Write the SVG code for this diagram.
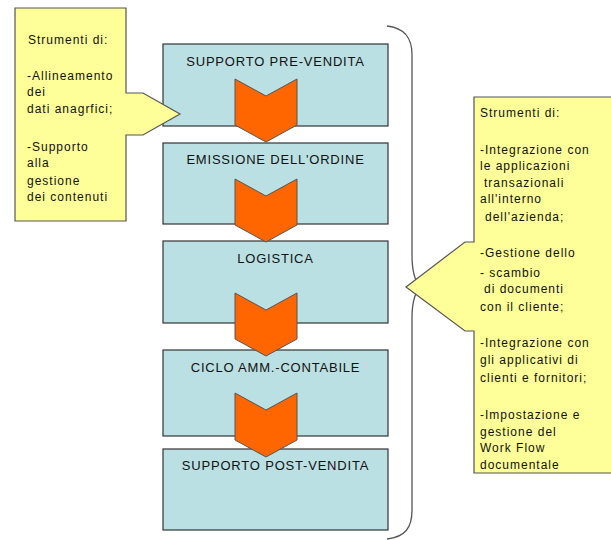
<svg xmlns="http://www.w3.org/2000/svg" width="611" height="540" viewBox="0 0 611 540">
<style>
.box{fill:#BBE0E3;stroke:#333;stroke-width:1.2}
.chev{fill:#FF6600;stroke:#555;stroke-width:1}
.call{fill:#FFFF99;stroke:#555;stroke-width:1.2}
.lbl{font-family:"Liberation Sans",Arial,sans-serif;font-size:13px;letter-spacing:0.8px;fill:#111;text-anchor:middle}
.ct{font-family:"Liberation Sans",Arial,sans-serif;font-size:12px;letter-spacing:1px;fill:#111}
.brace{fill:none;stroke:#555;stroke-width:1.3}
</style>
<rect width="611" height="540" fill="#fff"/>
<g id="brace"><path class="brace" d="M387,26 C405,28 412,38 412,55 L412,255 C412,270 414,280 420,287 C414,294 412,304 412,318 L412,510 C412,528 405,537 387,539"/></g>
<g id="box1"><rect class="box" x="163" y="44" width="225" height="82"/><text class="lbl" x="275.5" y="66">SUPPORTO PRE-VENDITA</text></g>
<g id="box2"><rect class="box" x="163" y="143" width="225" height="81"/><text class="lbl" x="275.5" y="164">EMISSIONE DELL'ORDINE</text></g>
<g id="box3"><rect class="box" x="163" y="241" width="225" height="82"/><text class="lbl" x="275.5" y="263">LOGISTICA</text></g>
<g id="box4"><rect class="box" x="163" y="350" width="225" height="86"/><text class="lbl" x="275.5" y="372">CICLO AMM.-CONTABILE</text></g>
<g id="box5"><rect class="box" x="163" y="449" width="225" height="81"/><text class="lbl" x="275.5" y="470">SUPPORTO POST-VENDITA</text></g>
<g id="connectors">
<path class="chev" d="M235,79 L266,96 L297,79 L297,125 L266,142 L235,125 Z"/>
<path class="chev" d="M235,179 L266,196 L297,179 L297,225 L266,242 L235,225 Z"/>
<path class="chev" d="M235,293 L266,310 L297,293 L297,339 L266,356 L235,339 Z"/>
<path class="chev" d="M235,393 L266,410 L297,393 L297,440 L266,457 L235,440 Z"/>
</g>
<g id="callout-left">
<path class="call" d="M15,8 H126 V93 H143 L180,114 L143,135 H126 V221 H15 Z"/>
<text class="ct" x="28" y="44">Strumenti di:</text>
<text class="ct" x="27" y="80">-Allineamento</text>
<text class="ct" x="27" y="96">dei</text>
<text class="ct" x="27" y="113">dati anagrfici;</text>
<text class="ct" x="27" y="151">-Supporto</text>
<text class="ct" x="27" y="167">alla</text>
<text class="ct" x="27" y="185">gestione</text>
<text class="ct" x="27" y="201">dei contenuti</text>
</g>
<g id="callout-right">
<path class="call" d="M474,97 H613 V473 H474 V331 H465 L406,287 L465,242 H474 Z"/>
<text class="ct" x="480" y="117">Strumenti di:</text>
<text class="ct" x="480" y="154">-Integrazione con</text>
<text class="ct" x="480" y="170">le applicazioni</text>
<text class="ct" x="484" y="187">transazionali</text>
<text class="ct" x="480" y="203">all'interno</text>
<text class="ct" x="485" y="221">dell'azienda;</text>
<text class="ct" x="480" y="257">-Gestione dello</text>
<text class="ct" x="480" y="277">- scambio</text>
<text class="ct" x="484" y="293">di documenti</text>
<text class="ct" x="480" y="311">con il cliente;</text>
<text class="ct" x="480" y="347">-Integrazione con</text>
<text class="ct" x="480" y="364">gli applicativi di</text>
<text class="ct" x="480" y="382">clienti e fornitori;</text>
<text class="ct" x="480" y="419">-Impostazione e</text>
<text class="ct" x="480" y="436">gestione del</text>
<text class="ct" x="480" y="452">Work Flow</text>
<text class="ct" x="480" y="469">documentale</text>
</g>
</svg>
